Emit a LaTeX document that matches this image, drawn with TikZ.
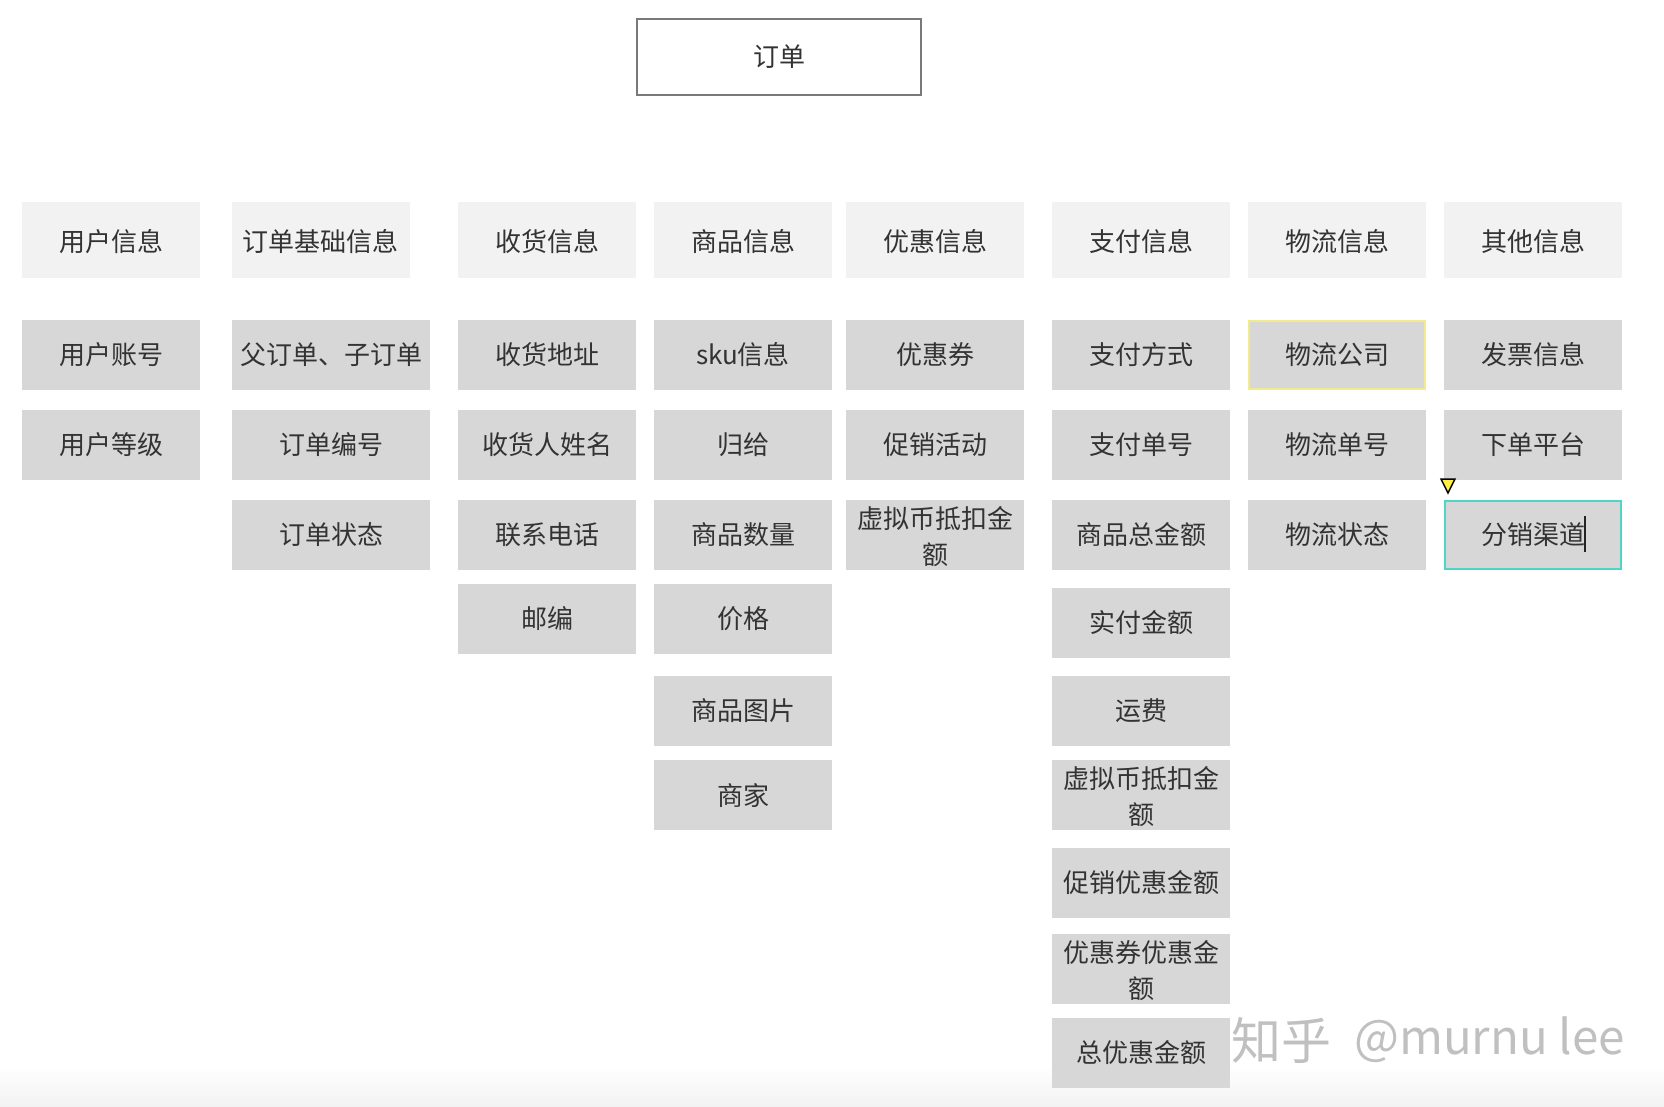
\documentclass[tikz,border=0pt]{standalone}
\usepackage{fontspec}
\setmainfont{Noto Sans CJK SC}
\definecolor{hdrfill}{HTML}{F2F2F2}
\definecolor{itemfill}{HTML}{D7D7D7}
\definecolor{txt}{HTML}{333333}
\definecolor{titleline}{HTML}{797979}
\definecolor{selyellow}{HTML}{F2EA8E}
\definecolor{selteal}{HTML}{4FD5C6}
\definecolor{wm}{HTML}{C0C0C0}
\definecolor{markfill}{HTML}{FFEE44}
\newcommand{\lowerfirst}{\rule{0pt}{25.5pt}}
\tikzset{
  base/.style={rectangle,inner sep=0pt,text=txt,align=center,font=\fontsize{26}{35}\selectfont},
  hdr/.style={base,fill=hdrfill,minimum width=178pt,minimum height=76pt,text height=25.5pt,text depth=3.5pt},
  item/.style={base,fill=itemfill,minimum width=178pt,minimum height=70pt},
  wide/.style={minimum width=198pt},
  twoline/.style={font=\fontsize{26}{35.5}\selectfont},
}
\begin{document}
\begin{tikzpicture}[x=1pt,y=-1pt]
\useasboundingbox (0,0) rectangle (1664,1106);
\shade[top color=white,bottom color=black!5,draw=none] (0,1066) rectangle (1664,1106);
\node[base,draw=titleline,line width=1.6pt,minimum width=284pt,minimum height=76pt] (title) at (779,57) {订单};
% headers
\node[hdr] (h1) at (111,240) {用户信息};
\node[hdr] (h2) at (320.5,240) {订单基础信息};
\node[hdr] (h3) at (547,240) {收货信息};
\node[hdr] (h4) at (743,240) {商品信息};
\node[hdr] (h5) at (935,240) {优惠信息};
\node[hdr] (h6) at (1141,240) {支付信息};
\node[hdr] (h7) at (1337,240) {物流信息};
\node[hdr] (h8) at (1533,240) {其他信息};
% column 1
\node[item] (a1) at (111,355) {用户账号};
\node[item] (a2) at (111,445) {用户等级};
% column 2
\node[item,wide] (b1) at (331,355) {父订单、子订单};
\node[item,wide] (b2) at (331,445) {订单编号};
\node[item,wide] (b3) at (331,535) {订单状态};
% column 3
\node[item] (c1) at (547,355) {收货地址};
\node[item] (c2) at (547,445) {收货人姓名};
\node[item] (c3) at (547,535) {联系电话};
\node[item] (c4) at (547,619) {邮编};
% column 4
\node[item] (d1) at (743,355) {sku信息};
\node[item] (d2) at (743,445) {归给};
\node[item] (d3) at (743,535) {商品数量};
\node[item] (d4) at (743,619) {价格};
\node[item] (d5) at (743,711) {商品图片};
\node[item] (d6) at (743,795) {商家};
% column 5
\node[item] (e1) at (935,355) {优惠券};
\node[item] (e2) at (935,445) {促销活动};
\node[item,twoline] (e3) at (935,535) {\lowerfirst 虚拟币抵扣金\\额};
% column 6
\node[item] (f1) at (1141,355) {支付方式};
\node[item] (f2) at (1141,445) {支付单号};
\node[item] (f3) at (1141,535) {商品总金额};
\node[item] (f4) at (1141,623) {实付金额};
\node[item] (f5) at (1141,711) {运费};
\node[item,twoline] (f6) at (1141,795) {\lowerfirst 虚拟币抵扣金\\额};
\node[item] (f7) at (1141,883) {促销优惠金额};
\node[item,twoline] (f8) at (1141,969) {\lowerfirst 优惠券优惠金\\额};
\node[item] (f9) at (1141,1053) {总优惠金额};
% column 7
\node[item,draw=selyellow,line width=1.6pt,minimum width=176.4pt,minimum height=68.4pt] (g1) at (1337,355) {物流公司};
\node[item] (g2) at (1337,445) {物流单号};
\node[item] (g3) at (1337,535) {物流状态};
% column 8
\node[item] (i1) at (1533,355) {发票信息};
\node[item] (i2) at (1533,445) {下单平台};
\node[item,draw=selteal,line width=1.6pt,minimum width=176.4pt,minimum height=68.4pt] (i3) at (1533,535) {分销渠道};
% text cursor and anchor marker
\coordinate (curtop) at (1585,516);
\coordinate (curbot) at (1585,552);
\draw[txt!70!black,line width=1.3pt] (curtop) -- (curbot);
\coordinate (ma) at (1441,479);
\coordinate (mb) at (1455,479);
\coordinate (mc) at (1448,493);
\draw[black,fill=markfill,line width=1.5pt,line join=miter] (ma) -- (mb) -- (mc) -- cycle;
% watermark
\node[inner sep=0pt,text=wm,anchor=west,font=\fontsize{50}{50}\selectfont] (wm1) at (1231,1040) {知乎};
\node[inner sep=0pt,text=wm,anchor=west,font=\fontsize{47.5}{48}\selectfont] (wm2) at (1354,1040) {@murnu lee};
\end{tikzpicture}
\end{document}
